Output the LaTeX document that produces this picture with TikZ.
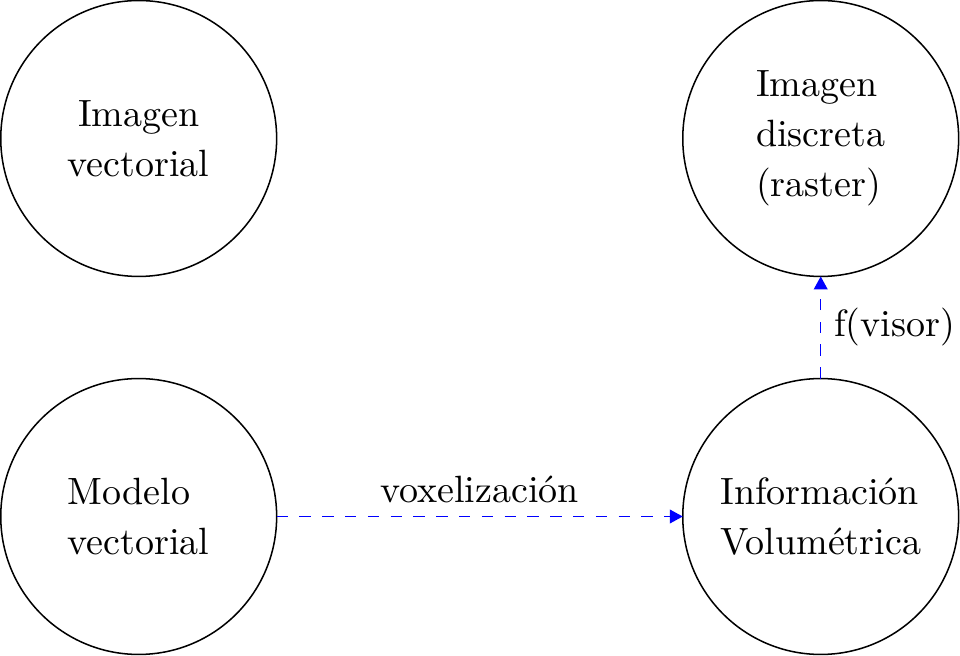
\documentclass[tikz,border=0pt]{standalone}
\usetikzlibrary{arrows.meta}
\begin{document}
\begin{tikzpicture}[x=0.26316pt,y=-0.26316pt,
  bubble/.style={draw=black,circle,minimum size=72.6pt,inner sep=0pt,outer sep=0pt,align=center,font=\fontsize{10}{13.1}\selectfont},
  flow/.style={draw=blue,dashed,-{Triangle[length=3.4pt,width=3.6pt]}},
  lbl/.style={font=\fontsize{10}{12}\selectfont}]
\useasboundingbox (0,0) rectangle (960,656);
\node[bubble] (tl) at (138.7,138.5) {Imagen\\vectorial};
\node[bubble,align=left] (tr) at (820.7,138.5) {Imagen\\discreta\\(raster)};
\node[bubble,align=left] (bl) at (138.7,516.5) {Modelo\\vectorial};
\node[bubble,align=left] (br) at (820.7,516.5) {Información\\Volumétrica};
\draw[flow] (bl) -- node[lbl,above]{voxelización} (br);
\draw[flow] (br) -- node[lbl,right]{f(visor)} (tr);
\end{tikzpicture}
\end{document}
